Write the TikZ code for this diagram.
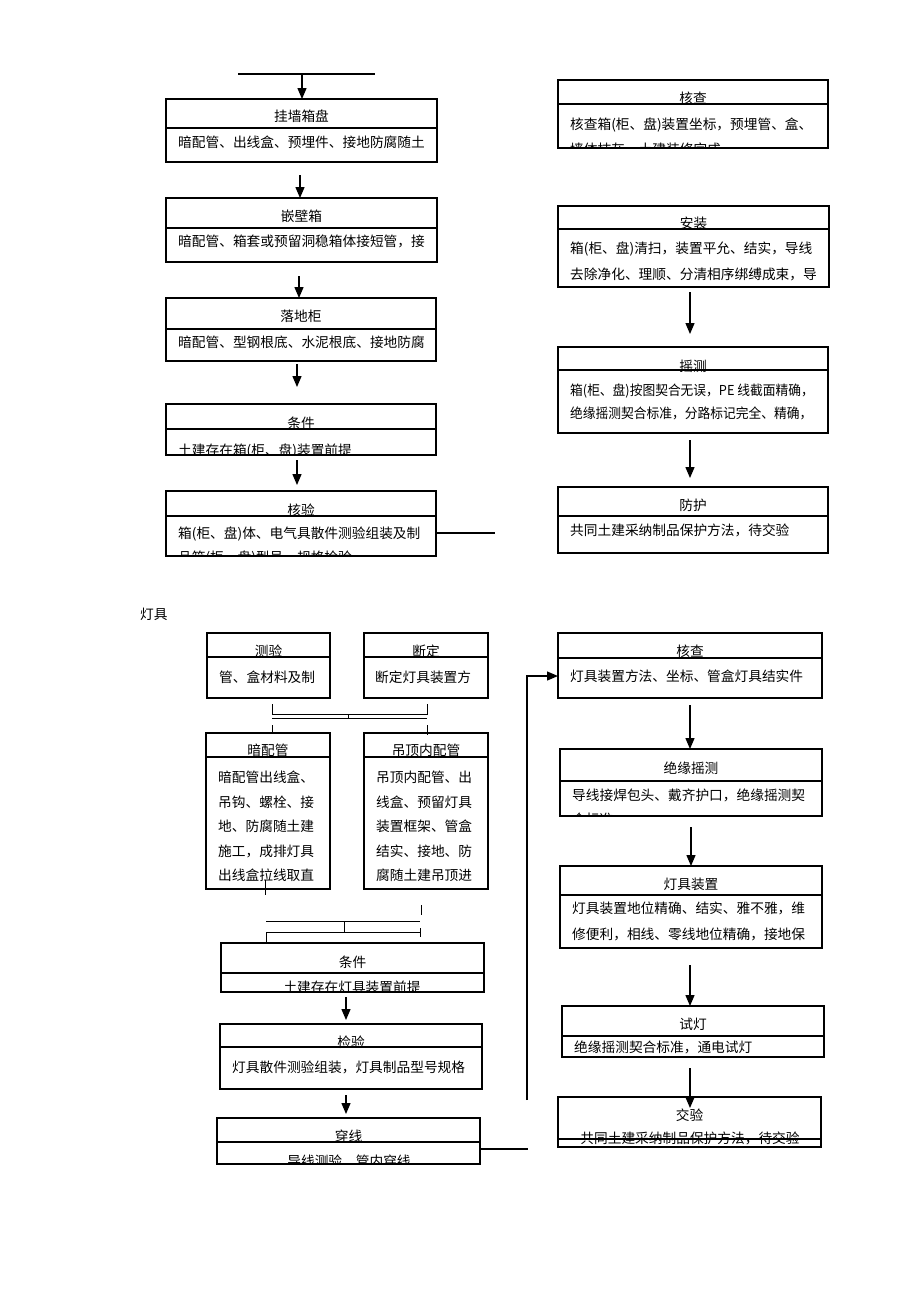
\documentclass[tikz,border=0pt]{standalone}
\usepackage{graphicx}
\usepackage{fontspec}
\setmainfont{Noto Sans CJK SC}
\usetikzlibrary{arrows.meta}
\tikzset{
 boxst/.style={draw=black, line width=1.2pt, inner sep=0pt, outer sep=0pt},
 divline/.style={line width=1.1pt},
 conn/.style={line width=1.2pt},
 thinconn/.style={line width=1pt},
 arr/.style={line width=1.3pt, -{Triangle[length=11pt,width=9pt]}},
 txt/.style={inner sep=0pt, font=\fontsize{13.7}{16}\selectfont},
}
\newcommand{\flowbox}[9]{%
 \begin{scope}
  \clip (#2,#3) rectangle (#4,#5);
  \node[txt, anchor=base] (#1-t) at ({(#2+#4)/2},{#7+5}) {#8};
  #9
 \end{scope}
 \node[boxst, anchor=north west, minimum width={(#4-#2)*1pt}, minimum height={(#5-#3)*1pt}] (#1) at (#2,#3) {};
 \draw[divline] (#2,#6) -- (#4,#6);
}
\newcommand{\bl}[4]{\node[txt,anchor=base west] (#1) at (#2,{#3+5}) {#4};}
\newcommand{\blx}[4]{\node[txt,anchor=base west] (#1) at (#2,{#3+5}) {\scalebox{0.93}[1]{#4}};}
\newcommand{\bc}[4]{\node[txt,anchor=base] (#1) at (#2,{#3+5}) {#4};}
\begin{document}
\begin{tikzpicture}[x=1pt,y=-1pt]
\fill[white] (0,0) rectangle (920,1302);
\useasboundingbox (0,0) rectangle (920,1302);

% ---------- top left column ----------
\flowbox{b1}{166}{99}{437}{162}{128}{116}{挂墙箱盘}{\bl{b1a}{178}{142}{暗配管、出线盒、预埋件、接地防腐随土}}
\flowbox{b2}{166}{198}{437}{262}{228}{216}{嵌壁箱}{\bl{b2a}{178}{241}{暗配管、箱套或预留洞稳箱体接短管，接}}
\flowbox{b3}{166}{298}{436}{361}{329}{316}{落地柜}{\bl{b3a}{178}{342}{暗配管、型钢根底、水泥根底、接地防腐}}
\flowbox{b4}{166}{404}{436}{455}{429}{423}{条件}{\bl{b4a}{178}{450}{土建存在箱(柜、盘)装置前提}}
\flowbox{b5}{166}{491}{436}{556}{516}{510}{核验}{\bl{b5a}{178}{533}{箱(柜、盘)体、电气具散件测验组装及制}\bl{b5b}{178}{557}{品箱(柜、盘)型号、规格检验}}

\coordinate (t1) at (238,74); \coordinate (t2) at (375,74);
\draw[conn] (t1) -- (t2);
\coordinate (a0) at (302,74);
\draw[arr] (a0) -- (a0 |- b1.north);
\coordinate (a1) at (300,175);
\draw[arr] (a1) -- (a1 |- b2.north);
\coordinate (a2) at (299,276);
\draw[arr] (a2) -- (a2 |- b3.north);
\coordinate (a3) at (297,364); \coordinate (a3e) at (297,387);
\draw[arr] (a3) -- (a3e);
\coordinate (a4) at (297,460); \coordinate (a4e) at (297,485);
\draw[arr] (a4) -- (a4e);
\coordinate (e5) at (495,533);
\draw[conn] (b5.east |- e5) -- (e5);

% ---------- top right column ----------
\flowbox{r1}{558}{80}{828}{148}{104}{98}{核查}{\bl{r1a}{570}{124}{核查箱(柜、盘)装置坐标，预埋管、盒、}\bl{r1b}{570}{149}{墙体抹灰、土建装修完成}}
\flowbox{r2}{558}{206}{829}{287}{229}{223}{安装}{\bl{r2a}{570}{248}{箱(柜、盘)清扫，装置平允、结实，导线}\bl{r2b}{570}{274}{去除净化、理顺、分清相序绑缚成束，导}}
\flowbox{r3}{558}{347}{828}{433}{370}{366}{摇测}{\blx{r3a}{570}{390}{箱(柜、盘)按图契合无误，PE 线截面精确，}\blx{r3b}{570}{413}{绝缘摇测契合标准，分路标记完全、精确，}}
\flowbox{r4}{558}{487}{828}{553}{516}{505}{防护}{\bl{r4a}{570}{530}{共同土建采纳制品保护方法，待交验}}

\coordinate (a6) at (690,292); \coordinate (a6e) at (690,334);
\draw[arr] (a6) -- (a6e);
\coordinate (a7) at (690,440); \coordinate (a7e) at (690,478);
\draw[arr] (a7) -- (a7e);

% ---------- lamps section ----------
\node[txt, anchor=base west] (lbl) at (140,619) {灯具};

\flowbox{l1}{207}{633}{330}{698}{657}{651}{测验}{\bl{l1a}{219}{677}{管、盒材料及制}}
\flowbox{l2}{364}{633}{488}{698}{657}{651}{断定}{\bl{l2a}{375}{677}{断定灯具装置方}}
\flowbox{l3}{206}{733}{330}{889}{757}{750}{暗配管}{%
 \bl{l3a}{218}{777}{暗配管出线盒、}\bl{l3b}{218}{802}{吊钩、螺栓、接}\bl{l3c}{218}{826}{地、防腐随土建}\bl{l3d}{218}{851}{施工，成排灯具}\bl{l3e}{218}{875}{出线盒拉线取直}}
\flowbox{l4}{364}{733}{488}{889}{757}{750}{吊顶内配管}{%
 \bl{l4a}{376}{777}{吊顶内配管、出}\bl{l4b}{376}{802}{线盒、预留灯具}\bl{l4c}{376}{826}{装置框架、管盒}\bl{l4d}{376}{851}{结实、接地、防}\bl{l4e}{376}{875}{腐随土建吊顶进}}
\flowbox{l5}{221}{943}{484}{992}{973}{962}{条件}{\bc{l5a}{352}{987}{土建存在灯具装置前提}}
\flowbox{l6}{220}{1024}{482}{1089}{1047}{1042}{检验}{\bl{l6a}{232}{1067}{灯具散件测验组装，灯具制品型号规格}}
\flowbox{l7}{217}{1118}{480}{1164}{1142}{1136}{穿线}{\bc{l7a}{349}{1161}{导线测验、管内穿线}}

% bracket connectors between lamp boxes
\coordinate (j1) at (272,704); \coordinate (j2) at (272,714);
\coordinate (j3) at (427,714); \coordinate (j4) at (427,704);
\coordinate (j5) at (272,718); \coordinate (j6) at (427,718);
\coordinate (j7) at (348,714); \coordinate (j8) at (348,718);
\coordinate (j9) at (272,725); \coordinate (j11) at (427,725); \coordinate (j12) at (427,735);
\draw[thinconn] (j1) -- (j2) -- (j3) -- (j4);
\draw[thinconn] (j5) -- (j6);
\draw[thinconn] (j7) -- (j8);
\draw[thinconn] (j9) -- (j9 |- l3.north);
\draw[thinconn] (j11) -- (j12);

\coordinate (m1) at (265,880); \coordinate (m2) at (265,895);
\coordinate (m3) at (421,905); \coordinate (m4) at (421,915);
\draw[thinconn] (m1) -- (m2);
\draw[thinconn] (m3) -- (m4);
\coordinate (n1) at (266,921); \coordinate (n2) at (420,921);
\coordinate (n3) at (344,921); \coordinate (n4) at (344,932);
\coordinate (n5) at (266,932); \coordinate (n6) at (420,932);
\coordinate (n7) at (420,928); \coordinate (n8) at (420,937);
\draw[thinconn] (n1) -- (n2);
\draw[thinconn] (n3) -- (n4);
\draw[thinconn] (n5) -- (n6);
\draw[thinconn] (n5) -- (n5 |- l5.north);
\draw[thinconn] (n7) -- (n8);

\coordinate (a8) at (346,997); \coordinate (a8e) at (346,1020);
\draw[arr] (a8) -- (a8e);
\coordinate (a9) at (346,1095); \coordinate (a9e) at (346,1114);
\draw[arr] (a9) -- (a9e);

% ---------- lamps right column ----------
\flowbox{k1}{558}{633}{822}{698}{658}{651}{核查}{\bl{k1a}{570}{676}{灯具装置方法、坐标、管盒灯具结实件}}
\flowbox{k2}{560}{749}{822}{816}{781}{768}{绝缘摇测}{\bl{k2a}{572}{795}{导线接焊包头、戴齐护口，绝缘摇测契}\bl{k2b}{572}{819}{合标准}}
\flowbox{k3}{560}{866}{822}{948}{895}{884}{灯具装置}{\bl{k3a}{572}{908}{灯具装置地位精确、结实、雅不雅，维}\bl{k3b}{572}{934}{修便利，相线、零线地位精确，接地保}}
\flowbox{k4}{562}{1006}{824}{1057}{1036}{1024}{试灯}{\bl{k4a}{574}{1047}{绝缘摇测契合标准，通电试灯}}
\flowbox{k5}{558}{1097}{821}{1147}{1139}{1115}{交验}{\bc{k5a}{690}{1138}{共同土建采纳制品保护方法，待交验}}

\coordinate (c1) at (690,705);
\draw[arr] (c1) -- (c1 |- k2.north);
\coordinate (c2) at (691,827);
\draw[arr] (c2) -- (c2 |- k3.north);
\coordinate (c3) at (690,965);
\draw[arr] (c3) -- (c3 |- k4.north);
\coordinate (c4) at (690,1068); \coordinate (c4e) at (690,1108);
\draw[arr] (c4) -- (c4e);

% feedback line
\coordinate (f1) at (527,1100); \coordinate (f2) at (527,676);
\draw[arr] (f1) -- (f2) -- (k1.west |- f2);
\coordinate (f3) at (528,1149);
\draw[conn] (l7.east |- f3) -- (f3);
\end{tikzpicture}
\end{document}
